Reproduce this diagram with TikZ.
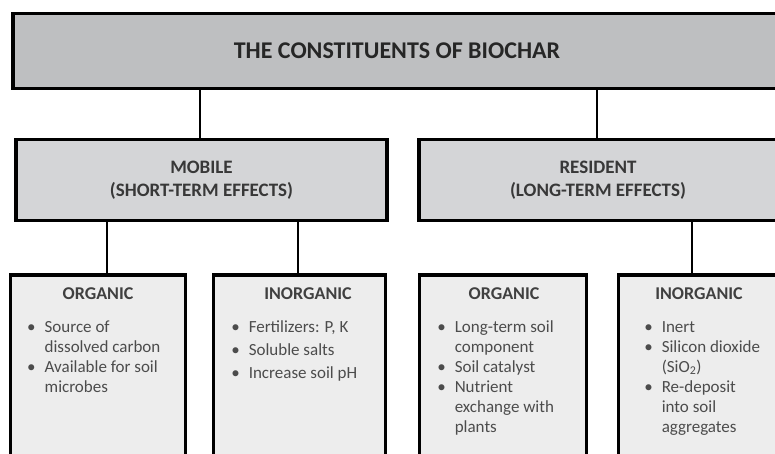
\documentclass[tikz,border=0pt]{standalone}
\usepackage{fontspec}
\setmainfont{Carlito}
\usepackage{xcolor}
\usetikzlibrary{
    positioning,
    calc,
}
\definecolor{topGray}{HTML}{BEBFC1}
\definecolor{midGray}{HTML}{D4D5D7}
\definecolor{lowGray}{HTML}{EDEDED}

\begin{document}
\begin{tikzpicture}[x=1pt,y=-1pt,
        box/.style={draw=black,line width=3.4pt,inner sep=0pt,rectangle},
        topbox/.style={box,fill=topGray,text=black!85,
                       font=\fontsize{24}{28}\selectfont\bfseries},
        midbox/.style={box,fill=midGray,text=black!78,align=center,
                       font=\fontsize{19}{22.5}\selectfont\bfseries},
        lowbox/.style={box,fill=lowGray,anchor=north,minimum height=200},
        lowhead/.style={anchor=base,inner sep=0pt,text=black!75,
                        font=\fontsize{18}{22}\selectfont\bfseries},
        lowlist/.style={anchor=base west,inner sep=0pt,text=black!70,
                        font=\fontsize{17}{20}\selectfont},
        link/.style={draw=black,line width=2.8pt},
    ]
    \pgfmathsetmacro\TopY{51}
    \pgfmathsetmacro\MidY{180}
    \pgfmathsetmacro\LowTop{273.3}
    %
    \path[use as bounding box,clip] (0,0) rectangle (775,453);
    %
        % Titolo
    \node[topbox,minimum width=768,minimum height=75.5] (biochar)
        at (397,\TopY) {THE CONSTITUENTS OF BIOCHAR};
    %
        % Mobile / Resident
    \node[midbox,minimum width=371,minimum height=81.5] (mobile)
        at (201.5,\MidY) {MOBILE\\(SHORT-TERM EFFECTS)};
    \node[midbox,minimum width=358,minimum height=81.5] (resident)
        at (598,\MidY) {RESIDENT\\(LONG-TERM EFFECTS)};
    %
    \draw[link] ([xshift=-1.5pt]mobile.north) -- ([xshift=-1.5pt]mobile.north |- biochar.south);
    \draw[link] ([xshift=-1pt]resident.north) -- ([xshift=-1pt]resident.north |- biochar.south);
    %
        % Riquadri in basso
    \node[lowbox,minimum width=175.2] (orgm) at (98,\LowTop) {};
    \node[lowbox,minimum width=172.4] (inorgm) at (299.5,\LowTop) {};
    \node[lowbox,minimum width=167.4] (orgr) at (503,\LowTop) {};
    \node[lowbox,minimum width=161.4] (inorgr) at (699,\LowTop) {};
    %
    \draw[link] ([xshift=9pt]orgm.north) -- ([xshift=9pt]orgm.north |- mobile.south);
    \draw[link] ([xshift=-1.5pt]inorgm.north) -- ([xshift=-1.5pt]inorgm.north |- mobile.south);
    \draw[link] ([xshift=-7pt]inorgr.north) -- ([xshift=-7pt]inorgr.north |- resident.south);
    %
        % Intestazioni
    \node[lowhead] (orgmhead) at ([yshift=-25.7pt]orgm.north) {ORGANIC};
    \node[lowhead] (inorgmhead) at ([xshift=8.5pt,yshift=-25.7pt]inorgm.north) {INORGANIC};
    \node[lowhead] (orgrhead) at ([xshift=1pt,yshift=-25.7pt]orgr.north) {ORGANIC};
    \node[lowhead] (inorgrhead) at ([yshift=-25.7pt]inorgr.north) {INORGANIC};
    %
        % Elenchi
    \node[lowlist] (orgmlist) at ([xshift=18.3pt,yshift=-58.7pt]orgm.north west)
        {\begin{tabular}[t]{@{}l@{\hspace{9pt}}l@{}}
            \textbullet & Source of\\
                        & dissolved carbon\\
            \textbullet & Available for soil\\
                        & microbes
        \end{tabular}};
    \node[lowlist] (inorgmlist) at ([xshift=19.5pt,yshift=-58.7pt]inorgm.north west)
        {\begin{tabular}[t]{@{}l@{\hspace{9pt}}l@{}}
            \textbullet & Fertilizers: P, K\\[3pt]
            \textbullet & Soluble salts\\[3pt]
            \textbullet & Increase soil pH
        \end{tabular}};
    \node[lowlist] (orgrlist) at ([xshift=19.5pt,yshift=-58.7pt]orgr.north west)
        {\begin{tabular}[t]{@{}l@{\hspace{9pt}}l@{}}
            \textbullet & Long-term soil\\
                        & component\\
            \textbullet & Soil catalyst\\
            \textbullet & Nutrient\\
                        & exchange with\\
                        & plants
        \end{tabular}};
    \node[lowlist] (inorgrlist) at ([xshift=27.5pt,yshift=-58.7pt]inorgr.north west)
        {\begin{tabular}[t]{@{}l@{\hspace{9pt}}l@{}}
            \textbullet & Inert\\
            \textbullet & Silicon dioxide\\
                        & (SiO\textsubscript{2})\\
            \textbullet & Re-deposit\\
                        & into soil\\
                        & aggregates
        \end{tabular}};
\end{tikzpicture}
\end{document}
